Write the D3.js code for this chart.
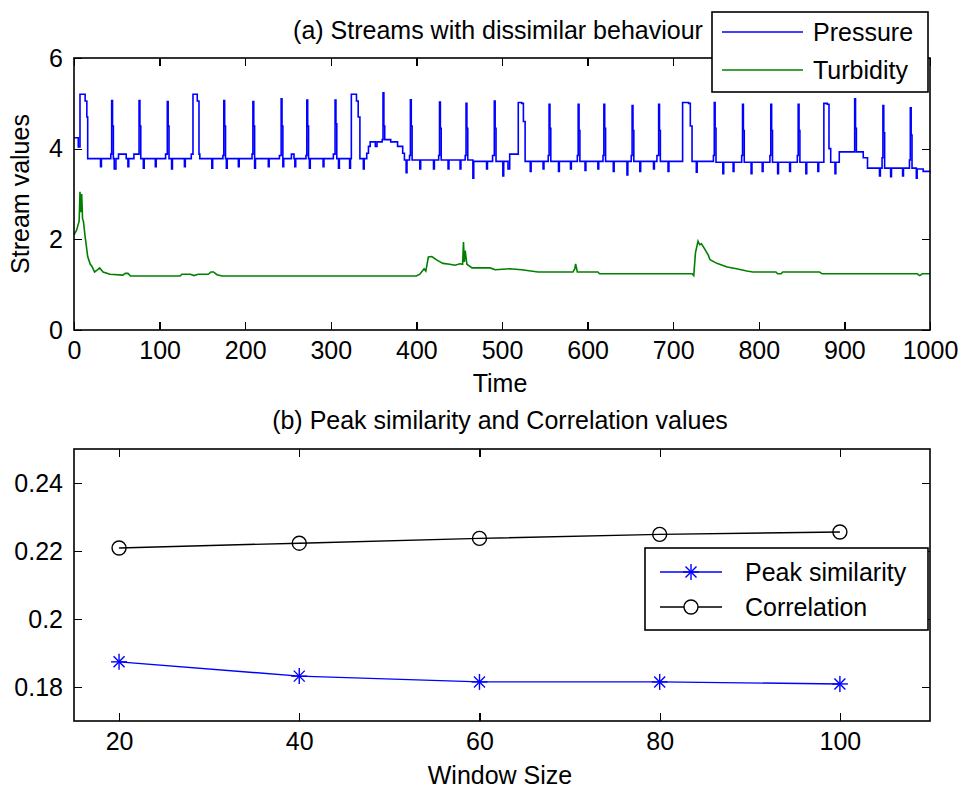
<!DOCTYPE html>
<html lang="en">
    <head>
        <meta charset="utf-8">
        <title>Streams and similarity</title>
        <script type="text/javascript" src="https://d3js.org/d3.v7.min.js"></script>
        <style type="text/css">
          body {
              margin: 0;
              background: white;
          }
          .axis path {
              display: none;
          }
          .axis line {
              stroke: black;
              stroke-width: 1.3;
              shape-rendering: crispEdges;
          }
          .axis text, .label {
              font-family: "Liberation Sans", Arial, sans-serif;
              font-size: 25px;
              fill: black;
          }
          .frame {
              fill: none;
              stroke: black;
              stroke-width: 1.6;
          }
        </style>
    </head>
    <body>
        <script type="text/javascript">
          // Chart size
          var w = 959;
          var h = 792;

          // (a) time series, [time, value] pairs
          var pressure = [
            [0,4.24],[5,4.04],[7,5.2],[13,5.05],[15,4.7],[16,3.78],
            [31,3.6],[32,3.78],
            [43,3.88],[44,5.06],[45,4.5],[46,3.78],[47,3.55],[49,3.78],[52,3.88],[61,3.78],[63,3.6],[64,3.78],
            [70,3.88],[75,3.88],[76,5.06],[77,4.5],[78,3.78],[81,3.57],[82,3.78],[95,3.6],[96,3.78],
            [107,3.88],[109,5.04],[110,4.5],[111,3.78],[114,3.55],[115,3.78],[129,3.6],[130,3.78],
            [137,3.88],[139,5.2],[144,5.05],[146,3.88],[147,3.78],[161,3.57],[162,3.78],
            [174,3.85],[175,5.06],[176,4.5],[177,3.78],[178,3.57],[179,3.78],[192,3.6],[193,3.78],
            [208,3.88],[209,5.04],[210,4.5],[211,3.57],[212,3.78],[227,3.6],[228,3.78],
            [240,3.85],[242,5.1],[243,4.5],[244,3.6],[245,3.78],[254,3.88],[257,3.78],[258,3.6],[259,3.78],
            [271,3.85],[272,5.07],[273,4.5],[274,3.78],[275,3.57],[276,3.78],[291,3.6],[292,3.78],
            [303,3.88],[305,5.07],[306,4.55],[307,3.78],[309,3.57],[310,3.78],[322,3.57],[323,3.78],
            [324,5.2],[330,5.05],[332,4.7],[334,3.78],[338,3.55],[339,3.78],[342,3.9],[344,4.05],[346,4.15],
            [352,4.05],[354,4.15],[360,4.2],[361,5.23],[362,4.5],[363,4.2],[370,4.15],[378,4.05],[384,3.9],
            [386,3.75],[388,3.47],[389,3.75],
            [392,3.85],[393,5.08],[394,4.5],[395,3.75],[404,3.55],[405,3.75],[420,3.55],[421,3.75],
            [426,3.85],[427,5.03],[428,4.45],[429,3.75],[437,3.55],[438,3.75],[451,3.55],[452,3.75],
            [457,3.85],[458,5.0],[459,4.45],[460,3.75],[466,3.35],[467,3.72],[482,3.55],[483,3.72],
            [489,3.85],[491,5.05],[492,4.45],[493,3.72],[501,3.4],[502,3.72],[507,3.55],[509,3.88],[517,3.88],
            [519,5.02],[523,5.0],[525,4.6],[527,3.72],[533,3.5],[534,3.72],[548,3.55],[549,3.72],
            [554,3.85],[555,4.98],[556,4.45],[557,3.72],[566,3.5],[567,3.72],[580,3.55],[581,3.72],
            [588,3.85],[589,4.98],[590,4.4],[591,3.72],[597,3.52],[598,3.72],[612,3.55],[613,3.72],
            [618,3.85],[619,4.98],[620,4.45],[621,3.72],[630,3.5],[631,3.72],[646,3.42],[647,3.72],
            [651,3.85],[652,4.95],[653,4.4],[654,3.72],[661,3.5],[662,3.72],[677,3.55],[678,3.72],
            [681,3.85],[683,4.98],[684,4.4],[685,3.72],[694,3.5],[695,3.72],
            [709,3.72],[711,5.02],[718,5.0],[720,4.5],[722,3.72],[727,3.48],[728,3.72],
            [747,3.85],[748,5.02],[749,4.45],[750,3.7],[758,3.45],[759,3.7],[770,3.5],[771,3.7],
            [780,3.85],[781,4.98],[782,4.4],[783,3.7],[791,3.45],[792,3.7],[804,3.5],[805,3.7],
            [813,3.85],[814,4.98],[815,4.4],[816,3.7],[822,3.45],[823,3.7],[836,3.5],[837,3.7],
            [845,3.85],[846,4.98],[847,4.4],[848,3.7],[855,3.45],[856,3.7],[869,3.5],[870,3.7],
            [876,5.0],[880,4.98],[882,4.0],[884,3.7],[889,3.45],[890,3.7],[894,3.93],
            [911,3.93],[912,5.1],[913,4.45],[914,3.93],[922,3.8],[927,3.57],[941,3.4],[942,3.57],
            [944,3.8],[945,4.95],[946,4.35],[947,3.57],[954,3.38],[955,3.57],[968,3.4],[969,3.57],
            [976,3.75],[977,4.9],[978,4.3],[979,3.57],[984,3.35],[985,3.55],[992,3.5],[1000,3.52]
          ];
          var turbidity = [
            [0,2.1],[3,2.2],[6,2.4],[7,3.05],[8,2.6],[9,3.0],[10,2.45],[11,2.4],[13,2.06],[16,1.62],
            [19,1.45],[21,1.4],[24,1.28],[27,1.32],[30,1.37],[34,1.28],[42,1.23],[57,1.21],[60,1.25],
            [63,1.25],[66,1.19],[124,1.19],[126,1.23],[136,1.23],[140,1.2],[145,1.23],[157,1.23],
            [160,1.28],[163,1.28],[167,1.22],[173,1.19],[400,1.19],[404,1.23],[406,1.28],[409,1.35],
            [411,1.3],[414,1.61],[418,1.62],[424,1.54],[431,1.47],[439,1.45],[445,1.43],[451,1.46],
            [454,1.45],[455,1.94],[456,1.5],[457,1.75],[459,1.45],[465,1.37],[486,1.37],[492,1.33],
            [509,1.35],[523,1.33],[542,1.28],[583,1.28],[585,1.35],[586,1.46],[588,1.28],[612,1.28],
            [614,1.24],[722,1.24],[724,1.2],[726,1.7],[729,1.96],[731,1.88],[733,1.9],[736,1.81],
            [741,1.65],[743,1.55],[751,1.47],[763,1.39],[774,1.35],[786,1.3],[793,1.28],[820,1.28],
            [822,1.24],[826,1.24],[828,1.28],[871,1.28],[874,1.24],[985,1.24],[988,1.2],[991,1.24],
            [1000,1.24]
          ];
          var timeTicks = [0,100,200,300,400,500,600,700,800,900,1000];
          var streamTicks = [0,2,4,6];

          // (b) window sizes and the two measures
          var windowSizes = [20,40,60,80,100];
          var peakSimilarity = [0.1874,0.1832,0.1815,0.1815,0.1809];
          var correlation = [0.2209,0.2223,0.2237,0.2249,0.2256];
          var windowTicks = [20,40,60,80,100];
          var measureTicks = [0.18,0.2,0.22,0.24];

          var svg = d3.select("body").append("svg")
                      .attr("width", w).attr("height", h);

          // Box with inward ticks on all four sides, like matlab
          function drawFrame(g, xScale, yScale, xTicks, yTicks, xFmt, yFmt) {
            var x0 = xScale.range()[0], x1 = xScale.range()[1];
            var y0 = yScale.range()[1], y1 = yScale.range()[0];
            g.append("g").attr("class", "axis")
              .attr("transform", "translate(0," + y1 + ")")
              .call(d3.axisBottom(xScale).tickValues(xTicks).tickSize(-8).tickPadding(11).tickFormat(xFmt));
            g.append("g").attr("class", "axis")
              .attr("transform", "translate(0," + y0 + ")")
              .call(d3.axisTop(xScale).tickValues(xTicks).tickSize(-8).tickFormat(""));
            g.append("g").attr("class", "axis")
              .attr("transform", "translate(" + x0 + ",0)")
              .call(d3.axisLeft(yScale).tickValues(yTicks).tickSize(-8).tickPadding(11).tickFormat(yFmt));
            g.append("g").attr("class", "axis")
              .attr("transform", "translate(" + x1 + ",0)")
              .call(d3.axisRight(yScale).tickValues(yTicks).tickSize(-8).tickFormat(""));
            g.append("rect").attr("class", "frame")
              .attr("x", x0).attr("y", y0)
              .attr("width", x1 - x0).attr("height", y1 - y0);
          }

          // ---------- (a) ----------
          var xTime = d3.scaleLinear().domain([0, 1000]).range([74, 930]);
          var yStream = d3.scaleLinear().domain([0, 6]).range([330, 58]);
          var gTop = svg.append("g");

          var lineA = d3.line()
                        .x(function(d) { return xTime(d[0]); })
                        .y(function(d) { return yStream(d[1]); });

          gTop.append("path").datum(pressure)
             .attr("d", lineA.curve(d3.curveStepAfter))
             .attr("fill", "none").attr("stroke", "#0000ff").attr("stroke-width", 1.6);
          gTop.append("path").datum(turbidity)
             .attr("d", d3.line()
                        .x(function(d) { return xTime(d[0]); })
                        .y(function(d) { return yStream(d[1]); }))
             .attr("fill", "none").attr("stroke", "#008000").attr("stroke-width", 1.6);

          drawFrame(gTop, xTime, yStream, timeTicks, streamTicks, d3.format("d"), d3.format("d"));

          gTop.append("text").attr("class", "label")
             .attr("x", 498).attr("y", 39).attr("text-anchor", "middle")
             .text("(a) Streams with dissimilar behaviour");
          gTop.append("text").attr("class", "label")
             .attr("x", 500).attr("y", 392).attr("text-anchor", "middle")
             .text("Time");
          gTop.append("text").attr("class", "label")
             .attr("transform", "translate(29,194) rotate(-90)")
             .attr("text-anchor", "middle")
             .text("Stream values");

          // legend (a)
          var legA = gTop.append("g");
          legA.append("rect").attr("x", 712).attr("y", 12).attr("width", 216).attr("height", 80)
              .attr("fill", "white").attr("stroke", "black").attr("stroke-width", 1.6);
          var legAItems = [["Pressure", "#0000ff", 32], ["Turbidity", "#008000", 70]];
          legAItems.forEach(function(it) {
            legA.append("line").attr("x1", 722).attr("x2", 803).attr("y1", it[2]).attr("y2", it[2])
                .attr("stroke", it[1]).attr("stroke-width", 1.6);
            legA.append("text").attr("class", "label").attr("x", 813).attr("y", it[2] + 9).text(it[0]);
          });

          // ---------- (b) ----------
          var xWin = d3.scaleLinear().domain([15, 110]).range([74, 930]);
          var yMeas = d3.scaleLinear().domain([0.17, 0.25]).range([721, 449]);
          var gBottom = svg.append("g");

          var lineB = d3.line()
                        .x(function(d, i) { return xWin(windowSizes[i]); })
                        .y(function(d) { return yMeas(d); });

          gBottom.append("path").datum(correlation).attr("d", lineB)
                .attr("fill", "none").attr("stroke", "black").attr("stroke-width", 1.4);
          gBottom.append("path").datum(peakSimilarity).attr("d", lineB)
                .attr("fill", "none").attr("stroke", "#0000ff").attr("stroke-width", 1.4);

          function star(g, cx, cy, col) {
            var r = 8, q = 5.5;
            var segs = [[-r,0,r,0],[0,-r,0,r],[-q,-q,q,q],[-q,q,q,-q]];
            segs.forEach(function(s) {
              g.append("line").attr("x1", cx + s[0]).attr("y1", cy + s[1])
               .attr("x2", cx + s[2]).attr("y2", cy + s[3])
               .attr("stroke", col).attr("stroke-width", 1.4);
            });
          }

          gBottom.selectAll("circle.corr").data(correlation).enter()
                .append("circle").attr("class", "corr")
                .attr("cx", function(d, i) { return xWin(windowSizes[i]); })
                .attr("cy", function(d) { return yMeas(d); })
                .attr("r", 7).attr("fill", "none").attr("stroke", "black").attr("stroke-width", 1.4);
          peakSimilarity.forEach(function(d, i) {
            star(gBottom, xWin(windowSizes[i]), yMeas(d), "#0000ff");
          });

          drawFrame(gBottom, xWin, yMeas, windowTicks, measureTicks, d3.format("d"), function(d) { return String(+d.toFixed(2)); });

          gBottom.append("text").attr("class", "label")
                .attr("x", 500).attr("y", 429).attr("text-anchor", "middle")
                .text("(b) Peak similarity and Correlation values");
          gBottom.append("text").attr("class", "label")
                .attr("x", 500).attr("y", 784).attr("text-anchor", "middle")
                .text("Window Size");

          // legend (b)
          var legB = gBottom.append("g");
          legB.append("rect").attr("x", 645).attr("y", 548).attr("width", 283).attr("height", 82)
              .attr("fill", "white").attr("stroke", "black").attr("stroke-width", 1.6);
          legB.append("line").attr("x1", 660).attr("x2", 722).attr("y1", 572).attr("y2", 572)
              .attr("stroke", "#0000ff").attr("stroke-width", 1.4);
          star(legB, 691, 572, "#0000ff");
          legB.append("text").attr("class", "label").attr("x", 745).attr("y", 581).text("Peak similarity");
          legB.append("line").attr("x1", 660).attr("x2", 722).attr("y1", 607).attr("y2", 607)
              .attr("stroke", "black").attr("stroke-width", 1.4);
          legB.append("circle").attr("cx", 691).attr("cy", 607).attr("r", 7)
              .attr("fill", "white").attr("stroke", "black").attr("stroke-width", 1.4);
          legB.append("text").attr("class", "label").attr("x", 745).attr("y", 616).text("Correlation");
        </script>
    </body>
</html>
